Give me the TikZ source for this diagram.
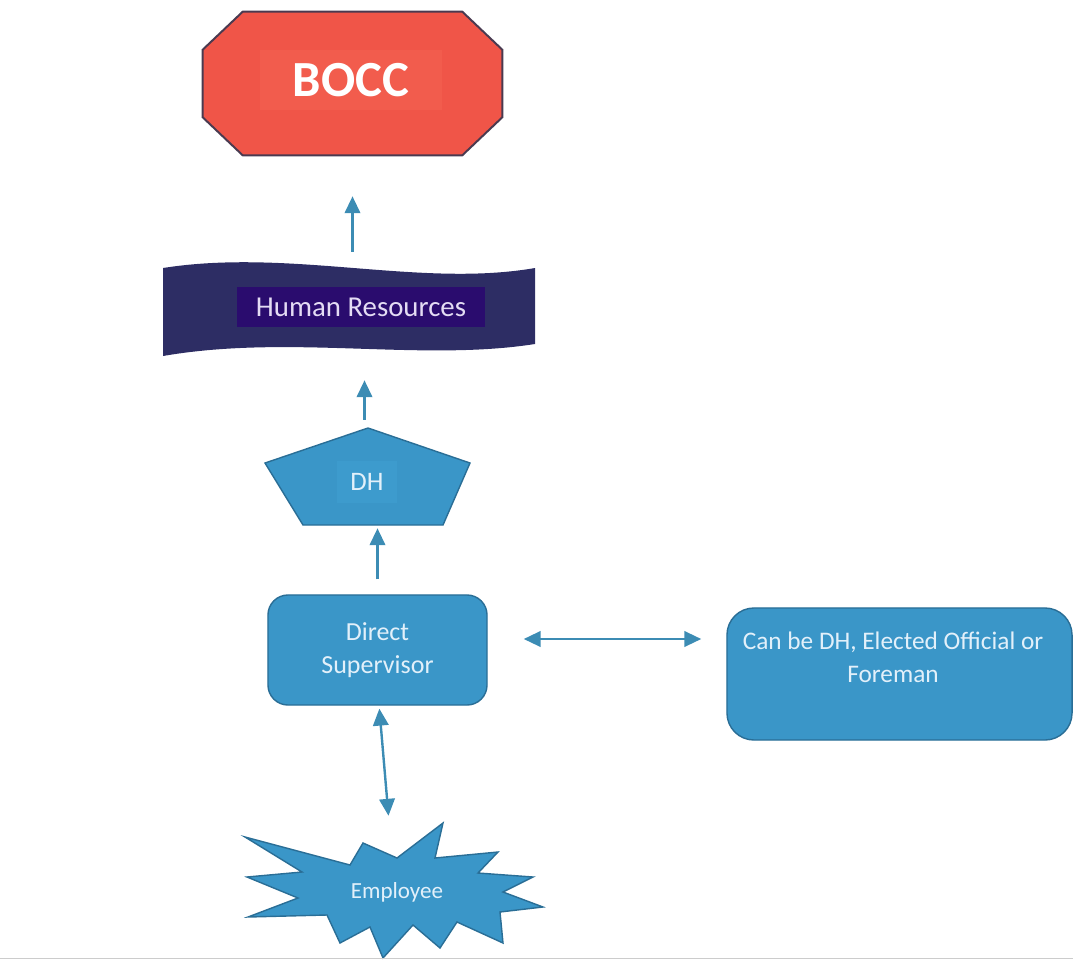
\documentclass[tikz,border=0pt]{standalone}
\usepackage{fontspec}
\setmainfont{Carlito}
\usepackage{xcolor}
\usepackage{tikz}
\usetikzlibrary{arrows.meta, positioning}
\definecolor{boccred}{HTML}{F05548}
\definecolor{boccedge}{HTML}{4A3A50}
\definecolor{boccglow}{HTML}{F25C4D}
\definecolor{hrnavy}{HTML}{2D2D64}
\definecolor{hrpurple}{HTML}{2A0C6E}
\definecolor{hrtext}{HTML}{E4DCF4}
\definecolor{shapeblue}{HTML}{3A96C8}
\definecolor{shapeedge}{HTML}{2A6E96}
\definecolor{glowblue}{HTML}{3D9BCD}
\definecolor{paletext}{HTML}{E2F0FA}
\definecolor{arrowblue}{HTML}{3C8CB4}

\begin{document}
\begin{tikzpicture}[x=0.025cm, y=-0.025cm,
arr/.style={-{Triangle[length=12pt, width=11pt]}, line width=1.7pt, arrowblue},
biarr/.style={{Triangle[length=12pt, width=11pt]}-{Triangle[length=12pt, width=11pt]}, line width=1.7pt,
arrowblue}, hull/.style={rectangle, inner sep=0pt, draw=none}, blueshape/.style={draw=shapeedge,
line width=1pt, fill=shapeblue, line join=miter}, lbl/.style={rectangle, inner sep=2pt, align=center,
text=paletext} ]
\useasboundingbox (0,0) rectangle (1073,961);
\node[hull, minimum width=7.475cm, minimum height=3.575cm] (bocc) at (352.5,83.5) {};
\draw[line width=1.4pt, draw=boccedge, fill=boccred, line join=miter]
  ([xshift=1cm]bocc.north west) -- ([xshift=-1cm]bocc.north east)
  -- ([yshift=-0.95cm]bocc.north east) -- ([yshift=0.95cm]bocc.south east)
  -- ([xshift=-1cm]bocc.south east) -- ([xshift=1cm]bocc.south west)
  -- ([yshift=0.95cm]bocc.south west) -- ([yshift=-0.95cm]bocc.north west) -- cycle;
\node[lbl, fill=boccglow, text=white, font=\fontsize{36}{40}\selectfont\bfseries, minimum width=4.55cm,
minimum height=1.5cm] (bocc-t) at (351,80) {BOCC};
\node[hull, minimum width=9.3cm, minimum height=2.375cm] (hr) at (349,309.5) {};
\fill[hrnavy] (163,268) .. controls (290,248) and (420,288) .. (535,268) -- (535,344)
  .. controls (420,362) and (290,334) .. (163,356) -- cycle;
\node[lbl, fill=hrpurple, text=hrtext, font=\fontsize{20.5}{24}\selectfont, minimum width=6.2cm,
minimum height=1cm] (hr-t) at (361,307) {Human Resources};
\node[hull, minimum width=5.125cm, minimum height=2.425cm] (dh) at (367.5,476.5) {};
\draw[blueshape] (368,428) -- (470,463) -- (443,525) -- (303,525) -- (265,463) -- cycle;
\node[lbl, fill=glowblue, font=\fontsize{19}{22}\selectfont, minimum width=1.5cm,
minimum height=1.05cm] (dh-t) at (367,482) {DH};
\node[blueshape, rounded corners=0.5cm, minimum width=5.475cm, minimum height=2.75cm, align=center,
text=paletext, font=\fontsize{18.5}{23.5}\selectfont] (ds) at (377.5,650) {Direct\\Supervisor};
\node[blueshape, rounded corners=0.675cm, minimum width=8.625cm, minimum height=3.3cm] (canbe)
at (899.5,674) {};
\node[lbl, font=\fontsize{18}{23.5}\selectfont] (canbe-t) at (893,657)
{Can be DH, Elected Official or\\Foreman};
\node[hull, minimum width=7.5cm, minimum height=3.4cm] (emp) at (395,890) {};
\draw[blueshape] (443,823) -- (435,858) -- (498,852) -- (478,873) -- (533,877) -- (503,892)
  -- (543,907) -- (500,912) -- (503,943) -- (457,922) -- (440,948) -- (413,925) -- (383,958)
  -- (370,927) -- (340,943) -- (327,915) -- (248,917) -- (298,898) -- (247,877) -- (302,872)
  -- (245,837) -- (350,865) -- (363,843) -- (397,858) -- cycle;
\node[lbl, font=\fontsize{16.4}{20}\selectfont] (emp-t) at (397,892) {Employee};
\draw[arr, shorten <=0.25cm, shorten >=1.025cm] (hr.north -| bocc.south) -- (bocc.south);
\draw[arr, shorten <=0.2cm, shorten >=0.575cm] ([xshift=-0.075cm]dh.north)
  -- ([xshift=-0.075cm]dh.north |- hr.south);
\draw[arr, shorten <=0.375cm, shorten >=0.075cm] (ds.north) -- (ds.north |- dh.south);
\draw[biarr, shorten <=0.075cm, shorten >=0.15cm] ([xshift=0.04cm]ds.south)
  -- ([xshift=-0.15cm]emp.north);
\draw[biarr, shorten <=0.9cm, shorten >=0.625cm] ([yshift=0.275cm]ds.east)
  -- ([yshift=0.275cm]ds.east -| canbe.west);
\draw[black!20, line width=1.2pt] (0,958.5) -- (1073,958.5);
\end{tikzpicture}
\end{document}
